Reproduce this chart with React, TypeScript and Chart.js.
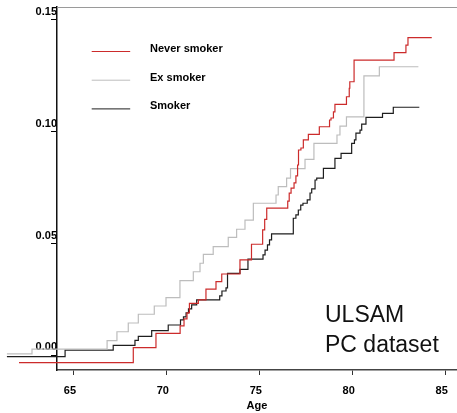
import React, { useEffect, useRef } from "react";
import { Chart, registerables } from "chart.js";

Chart.register(...registerables);

const FONT = "'Liberation Sans', Arial, Helvetica, sans-serif";

const X_TICKS = [65, 70, 75, 80, 85];
const Y_TICKS = [0, 0.05, 0.1, 0.15];
const X_MIN = 64.115;
const X_MAX = 85.638;
const Y_MIN = -0.0064;
const Y_MAX = 0.1558;

const SERIES_LABELS = ["Never smoker", "Ex smoker", "Smoker"];
const SERIES_COLORS = ["#cc2b2b", "#bdbdbd", "#1e1e1e"];
const ANNOTATION = ["ULSAM", "PC dataset"];
const X_TITLE = "Age";

const neverAge = [62.07, 68.22, 69.44, 70.74, 70.95, 71.11, 71.24, 71.72, 72.13, 72.67, 72.98, 73.96, 74.58, 75.18, 75.29, 75.40, 76.53, 76.61, 76.71, 76.87, 76.97, 77.06, 77.11, 77.24, 77.37, 77.64, 78.23, 78.78, 78.86, 78.99, 79.07, 79.69, 79.84, 79.87, 80.10, 82.25, 82.89, 83.00, 84.28];
const neverRisk = [-0.0031, 0.0036, 0.0100, 0.0133, 0.0164, 0.0191, 0.0234, 0.0249, 0.0297, 0.0331, 0.0365, 0.0428, 0.0498, 0.0562, 0.0609, 0.0659, 0.0691, 0.0726, 0.0749, 0.0772, 0.0803, 0.0852, 0.0919, 0.0928, 0.0964, 0.0989, 0.1023, 0.1053, 0.1062, 0.1089, 0.1123, 0.1157, 0.1195, 0.1224, 0.1321, 0.1354, 0.1388, 0.1421, 0.1421];

const exAge = [61.42, 62.77, 66.81, 67.34, 67.95, 68.49, 69.35, 69.98, 70.73, 71.45, 71.81, 71.99, 72.52, 73.33, 73.78, 74.23, 74.68, 75.90, 76.02, 76.47, 76.68, 77.46, 77.94, 79.18, 79.34, 79.69, 80.63, 81.46, 83.56];
const exRisk = [0.0008, 0.0029, 0.0067, 0.0107, 0.0146, 0.0185, 0.0222, 0.0259, 0.0335, 0.0375, 0.0413, 0.0453, 0.0487, 0.0529, 0.0565, 0.0606, 0.0681, 0.0718, 0.0755, 0.0793, 0.0836, 0.0877, 0.0949, 0.0986, 0.1026, 0.1067, 0.1250, 0.1291, 0.1291];

const smokerAge = [61.42, 64.55, 67.14, 68.31, 68.49, 69.21, 70.10, 70.76, 70.92, 71.06, 71.19, 71.36, 71.63, 72.87, 72.99, 73.21, 73.29, 73.96, 74.39, 75.20, 75.31, 75.44, 75.55, 75.66, 76.83, 76.97, 77.10, 77.23, 77.35, 77.58, 77.73, 77.82, 78.00, 78.09, 78.45, 79.07, 79.40, 79.97, 80.12, 80.20, 80.42, 80.51, 80.74, 81.63, 82.21, 83.61];
const smokerRisk = [-0.0004, 0.0025, 0.0046, 0.0068, 0.0086, 0.0112, 0.0137, 0.0160, 0.0173, 0.0191, 0.0209, 0.0227, 0.0249, 0.0267, 0.0289, 0.0303, 0.0368, 0.0386, 0.0431, 0.0450, 0.0472, 0.0495, 0.0517, 0.0544, 0.0614, 0.0629, 0.0651, 0.0673, 0.0681, 0.0696, 0.0727, 0.0745, 0.0785, 0.0793, 0.0837, 0.0882, 0.0904, 0.0949, 0.0964, 0.0994, 0.1008, 0.1035, 0.1065, 0.1083, 0.1110, 0.1110];

const toPoints = (xs: number[], ys: number[]) => xs.map((x, i) => ({ x, y: ys[i] }));

const decorPlugin = {
  id: "decor",
  afterDatasetsDraw(chart: any) {
    const { ctx, chartArea } = chart;
    const { left, top, right } = chartArea;
    ctx.save();
    // top frame line
    ctx.strokeStyle = "#9a9a9a";
    ctx.lineWidth = 1;
    ctx.beginPath();
    ctx.moveTo(left, top + 0.5);
    ctx.lineTo(right, top + 0.5);
    ctx.stroke();
    // legend
    const lx = left + 34.7;
    chart.data.datasets.forEach((ds: any, i: number) => {
      const y = top + 44 + i * 28.7;
      ctx.strokeStyle = ds.borderColor;
      ctx.lineWidth = 1;
      ctx.beginPath();
      ctx.moveTo(lx, y + 0.5);
      ctx.lineTo(lx + 38.5, y + 0.5);
      ctx.stroke();
      ctx.fillStyle = "#000";
      ctx.font = `bold 11px ${FONT}`;
      ctx.textAlign = "left";
      ctx.textBaseline = "alphabetic";
      ctx.fillText(ds.label, lx + 58.3, y + 1);
    });
    // annotation
    ctx.font = `23px ${FONT}`;
    ctx.fillStyle = "#111";
    ANNOTATION.forEach((t, i) => {
      ctx.fillText(t, left + 268, top + 315.3 + i * 29.4);
    });
    ctx.restore();
  },
};

export default function App() {
  const ref = useRef<HTMLCanvasElement | null>(null);
  useEffect(() => {
    if (!ref.current) return;
    const series = [
      toPoints(neverAge, neverRisk),
      toPoints(exAge, exRisk),
      toPoints(smokerAge, smokerRisk),
    ];
    const chart = new Chart(ref.current, {
      type: "line",
      data: {
        datasets: series.map((data, i) => ({
          label: SERIES_LABELS[i],
          data,
          borderColor: SERIES_COLORS[i],
          backgroundColor: SERIES_COLORS[i],
          borderWidth: 1.2,
          pointRadius: 0,
          pointHoverRadius: 0,
          stepped: true,
          fill: false,
          clip: false as any,
        })),
      },
      options: {
        animation: false,
        responsive: false,
        devicePixelRatio: 1,
        events: [],
        layout: { padding: { top: 7, left: 0, right: 0, bottom: 0 } },
        plugins: {
          legend: { display: false },
          tooltip: { enabled: false },
          title: { display: false },
        },
        scales: {
          x: {
            type: "linear",
            bounds: "data",
            afterDataLimits: (s: any) => {
              s.min = X_MIN;
              s.max = X_MAX;
            },
            afterBuildTicks: (s: any) => {
              s.min = X_MIN;
              s.max = X_MAX;
              s.ticks = X_TICKS.map((v) => ({ value: v }));
            },
            afterFit: (s: any) => {
              s.height = 43;
              s.paddingLeft = 0;
              s.paddingRight = 0;
            },
            grid: {
              display: true,
              drawOnChartArea: false,
              drawTicks: true,
              tickLength: 5,
              color: "#333",
            },
            border: { display: true, color: "#444", width: 1.5 },
            ticks: {
              autoSkip: false,
              maxRotation: 0,
              padding: 9,
              labelOffset: -3.5,
              color: "#000",
              font: { family: FONT, size: 11, weight: "bold" },
              callback: (v: any) => String(v),
            },
            title: {
              display: true,
              text: X_TITLE,
              color: "#000",
              padding: { top: 0, bottom: 0 },
              font: { family: FONT, size: 11, weight: "bold" },
            },
          },
          y: {
            type: "linear",
            min: Y_MIN,
            max: Y_MAX,
            afterBuildTicks: (s: any) => {
              s.ticks = Y_TICKS.map((v) => ({ value: v }));
            },
            afterFit: (s: any) => {
              s.width = 57;
              s.paddingTop = 0;
              s.paddingBottom = 0;
            },
            grid: {
              display: true,
              drawOnChartArea: false,
              drawTicks: true,
              tickLength: 6,
              color: "#000",
            },
            border: { display: true, color: "#111", width: 1.5 },
            ticks: {
              autoSkip: false,
              padding: -6,
              labelOffset: -8.3,
              color: "#000",
              font: { family: FONT, size: 11, weight: "bold" },
              callback: (v: any) => Number(v).toFixed(2),
            },
          },
        },
      },
      plugins: [decorPlugin],
    });
    return () => chart.destroy();
  }, []);

  return (
    <div style={{ position: "fixed", left: 0, top: 0, width: 457, height: 413, background: "#fff" }}>
      <canvas ref={ref} width={457} height={413} style={{ display: "block", width: 457, height: 413 }} />
    </div>
  );
}
